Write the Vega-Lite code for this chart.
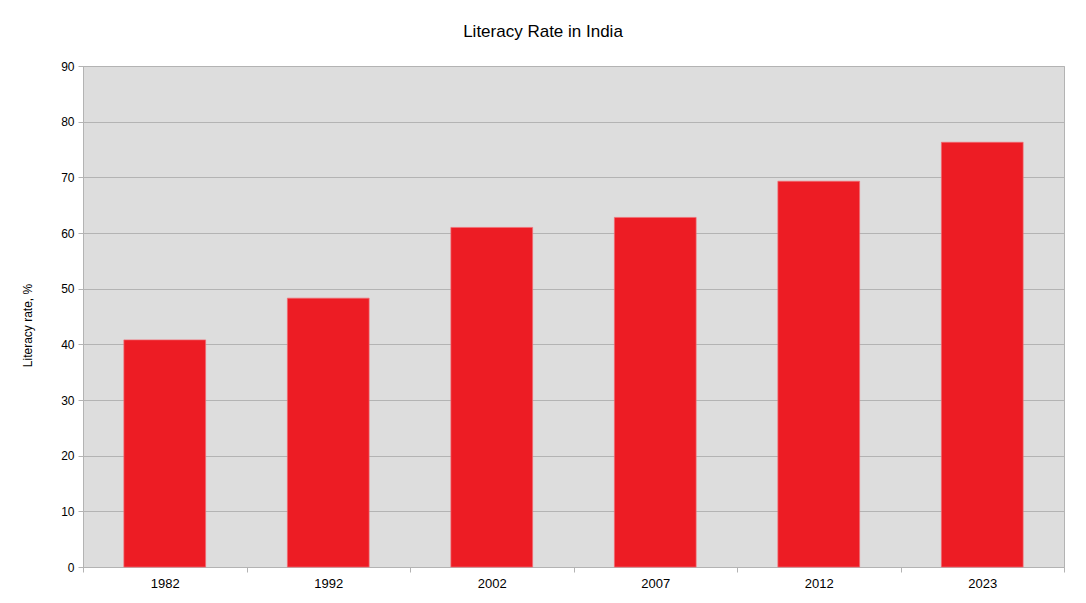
{
  "$schema": "https://vega.github.io/schema/vega-lite/v6.json",
  "width": 981,
  "height": 501,
  "autosize": {"type": "none"},
  "padding": {"left": 83, "top": 66, "right": 22, "bottom": 36},
  "background": "white",
  "title": {
    "text": "Literacy Rate in India",
    "font": "Liberation Sans",
    "fontSize": 17,
    "fontWeight": "normal",
    "color": "#000000",
    "baseline": "alphabetic",
    "offset": 28,
    "dx": -30.5,
    "dy": 22
  },
  "data": {
    "values": [
      {"year": "1982", "rate": 40.8},
      {"year": "1992", "rate": 48.3},
      {"year": "2002", "rate": 61.0},
      {"year": "2007", "rate": 62.8},
      {"year": "2012", "rate": 69.3},
      {"year": "2023", "rate": 76.3}
    ]
  },
  "config": {
    "view": {"fill": "#dddddd", "stroke": "#b3b3b3", "strokeWidth": 1},
    "font": "Liberation Sans"
  },
  "mark": {"type": "bar", "color": "#ed1c24", "stroke": "#f26b72", "strokeWidth": 0.7, "width": {"band": 0.5}},
  "encoding": {
    "x": {
      "field": "year",
      "type": "ordinal",
      "sort": null,
      "scale": {"paddingInner": 0, "paddingOuter": 0},
      "axis": {
        "title": null,
        "labelAngle": 0,
        "labelFont": "Liberation Sans",
        "labelFontSize": 13,
        "labelColor": "#000000",
        "labelPadding": 5,
        "tickBand": "extent",
        "tickSize": 5,
        "tickColor": "#b3b3b3",
        "domainColor": "#b3b3b3",
        "grid": false
      }
    },
    "y": {
      "field": "rate",
      "type": "quantitative",
      "scale": {"domain": [0, 90], "nice": false},
      "axis": {
        "title": "Literacy rate, %",
        "titleFont": "Liberation Sans",
        "titleFontSize": 12,
        "titleFontWeight": "normal",
        "titleColor": "#000000",
        "titleX": -52,
        "titleY": 259,
        "titleAlign": "center",
        "titleBaseline": "alphabetic",
        "titleAngle": -90,
        "values": [0, 10, 20, 30, 40, 50, 60, 70, 80, 90],
        "labelFont": "Liberation Sans",
        "labelFontSize": 12,
        "labelColor": "#000000",
        "labelPadding": 4,
        "tickSize": 5,
        "tickColor": "#b3b3b3",
        "domainColor": "#b3b3b3",
        "gridColor": "#b3b3b3",
        "gridOpacity": 1
      }
    }
  }
}
